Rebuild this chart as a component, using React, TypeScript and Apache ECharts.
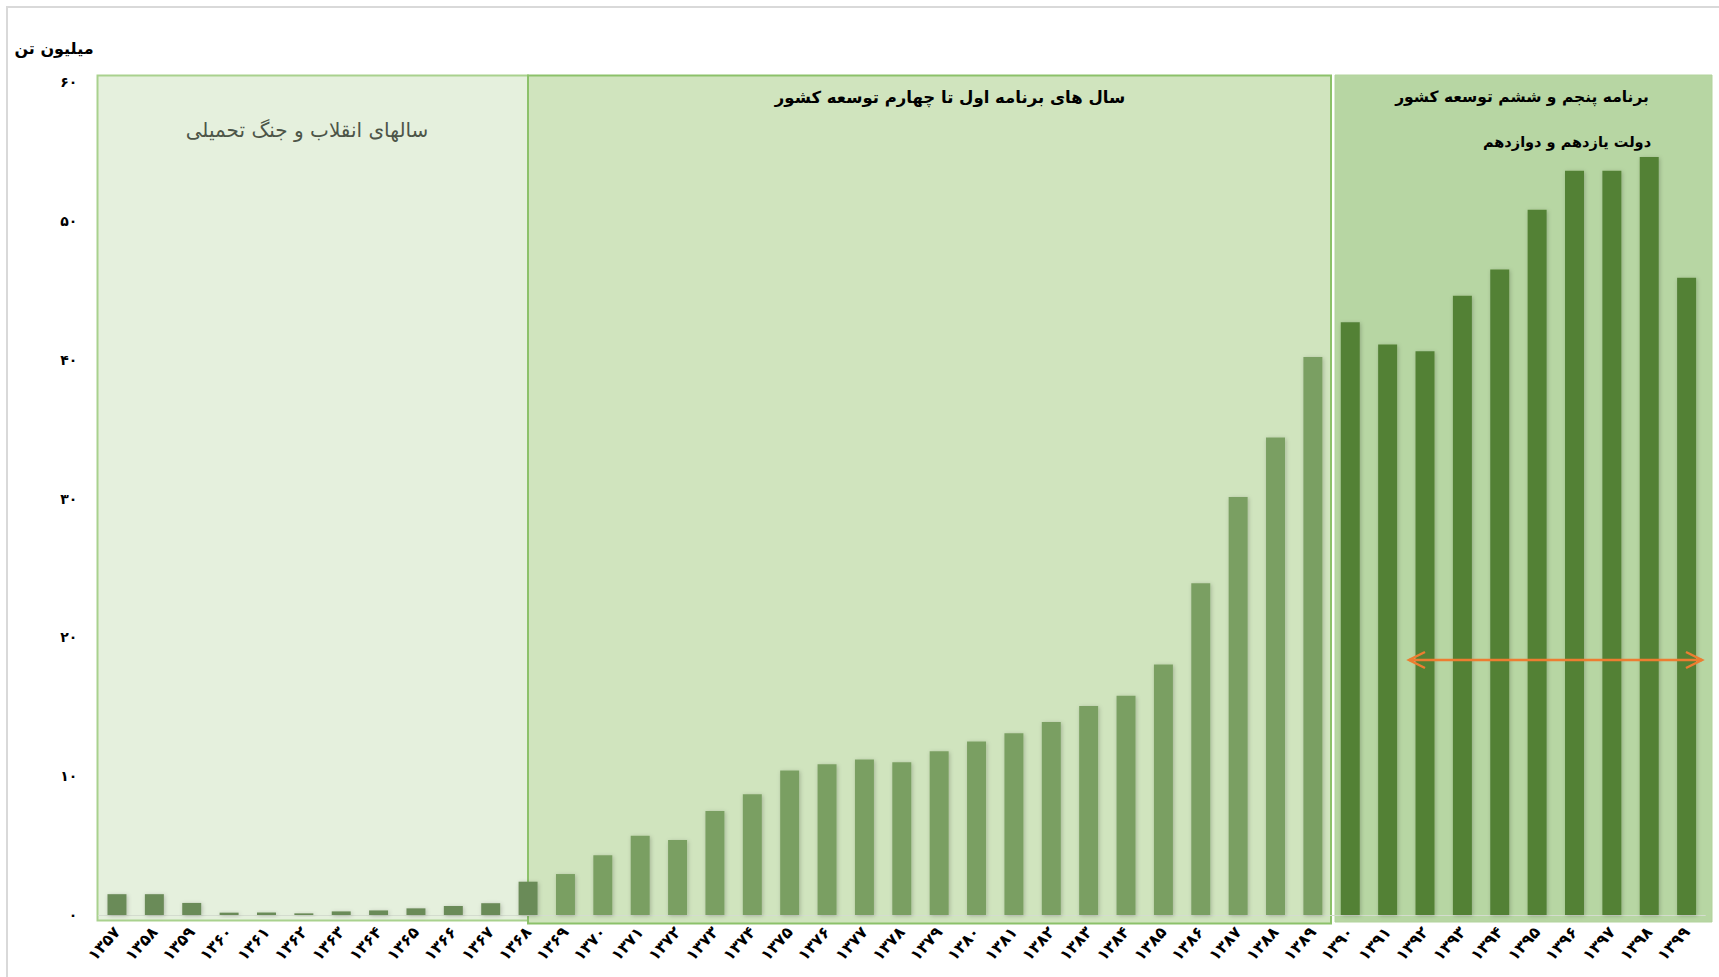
import React, { useEffect, useRef } from "react";
import * as echarts from "echarts";

const years = [
  "۱۳۵۷", "۱۳۵۸", "۱۳۵۹", "۱۳۶۰", "۱۳۶۱", "۱۳۶۲", "۱۳۶۳", "۱۳۶۴", "۱۳۶۵", "۱۳۶۶",
  "۱۳۶۷", "۱۳۶۸", "۱۳۶۹", "۱۳۷۰", "۱۳۷۱", "۱۳۷۲", "۱۳۷۳", "۱۳۷۴", "۱۳۷۵", "۱۳۷۶",
  "۱۳۷۷", "۱۳۷۸", "۱۳۷۹", "۱۳۸۰", "۱۳۸۱", "۱۳۸۲", "۱۳۸۳", "۱۳۸۴", "۱۳۸۵", "۱۳۸۶",
  "۱۳۸۷", "۱۳۸۸", "۱۳۸۹", "۱۳۹۰", "۱۳۹۱", "۱۳۹۲", "۱۳۹۳", "۱۳۹۴", "۱۳۹۵", "۱۳۹۶",
  "۱۳۹۷", "۱۳۹۸", "۱۳۹۹",
];

const production = [
  1.5, 1.5, 0.87, 0.17, 0.18, 0.12, 0.26, 0.33, 0.48, 0.65,
  0.85, 2.4, 2.95, 4.3, 5.7, 5.4, 7.5, 8.7, 10.4, 10.85,
  11.2, 11.0, 11.8, 12.5, 13.1, 13.9, 15.05, 15.8, 18.05, 23.9,
  30.1, 34.4, 40.2, 42.7, 41.1, 40.6, 44.6, 46.5, 50.8, 53.6,
  53.6, 54.6, 45.9,
];

// number of bars in each period
const periodCounts = [12, 21, 10];
const periodBarColors = ["#6b8b59", "#7a9f62", "#538135"];

const yTicks = [0, 10, 20, 30, 40, 50, 60];

const unitLabel = "میلیون تن";
const period1Title = "سالهای انقلاب و جنگ تحمیلی";
const period2Title = "سال های برنامه اول تا چهارم توسعه کشور";
const period3Title = "برنامه پنجم و ششم توسعه کشور";
const period3Sub = "دولت یازدهم و دوازدهم";

const faDigits = "۰۱۲۳۴۵۶۷۸۹";
const toFa = (v: number | string) =>
  String(v).replace(/[0-9]/g, (d) => faDigits[Number(d)]);

const FONT = '"DejaVu Sans", "Noto Sans", sans-serif';

export default function App() {
  const ref = useRef<HTMLDivElement>(null);

  useEffect(() => {
    if (!ref.current) return;
    const chart = echarts.init(ref.current, undefined, { renderer: "svg" });

    const colorFor = (i: number) => {
      let acc = 0;
      for (let p = 0; p < periodCounts.length; p++) {
        acc += periodCounts[p];
        if (i < acc) return periodBarColors[p];
      }
      return periodBarColors[periodBarColors.length - 1];
    };

    const data = production.map((v, i) => ({
      value: v,
      itemStyle: { color: colorFor(i) },
    }));

    const arrowColor = "#ed7d31";

    chart.setOption({
      animation: false,
      backgroundColor: "#ffffff",
      grid: { left: 98.3, top: 82, width: 1607, height: 833, containLabel: false },
      xAxis: {
        type: "category",
        data: years,
        axisTick: { show: false },
        axisLine: { show: true, lineStyle: { color: "#d4dccf", width: 1 } },
        axisLabel: {
          rotate: 48,
          margin: 14,
          interval: 0,
          color: "#000",
          fontWeight: "bold",
          fontSize: 16,
          fontFamily: FONT,
        },
      },
      yAxis: {
        type: "value",
        min: yTicks[0],
        max: yTicks[yTicks.length - 1],
        interval: 10,
        splitLine: { show: false },
        axisLine: { show: false },
        axisTick: { show: false },
        axisLabel: {
          margin: 21,
          color: "#000",
          fontWeight: "bold",
          fontSize: 14,
          fontFamily: FONT,
          formatter: (v: number) => toFa(v),
        },
      },
      graphic: [
        {
          type: "rect",
          z: -10,
          shape: { x: 7, y: 7, width: 1730, height: 1000 },
          style: { fill: "none", stroke: "#d9d9d9", lineWidth: 2 },
        },
        {
          type: "rect",
          z: -5,
          shape: { x: 97.5, y: 75.5, width: 430.5, height: 845 },
          style: { fill: "#e5f0dd", stroke: "#a9d18e", lineWidth: 2 },
        },
        {
          type: "rect",
          z: -4,
          shape: { x: 528, y: 75.5, width: 803, height: 848 },
          style: { fill: "rgba(190,218,165,0.72)", stroke: "#8cc16a", lineWidth: 2 },
        },
        {
          type: "rect",
          z: -4,
          shape: { x: 1335, y: 75, width: 377, height: 847 },
          style: { fill: "#b7d6a3", stroke: "#b2d39c", lineWidth: 1 },
        },
        {
          type: "text",
          z: 5,
          x: 54,
          y: 48,
          style: {
            text: unitLabel,
            font: `bold 16px ${FONT}`,
            fill: "#000",
            align: "center",
            verticalAlign: "middle",
          },
        },
        {
          type: "text",
          z: 5,
          x: 307,
          y: 130,
          style: {
            text: period1Title,
            font: `20px ${FONT}`,
            fill: "#4d5548",
            align: "center",
            verticalAlign: "middle",
          },
        },
        {
          type: "text",
          z: 5,
          x: 950,
          y: 97,
          style: {
            text: period2Title,
            font: `bold 16.5px ${FONT}`,
            fill: "#000",
            align: "center",
            verticalAlign: "middle",
          },
        },
        {
          type: "text",
          z: 5,
          x: 1522,
          y: 97,
          style: {
            text: period3Title,
            font: `bold 15.5px ${FONT}`,
            fill: "#000",
            align: "center",
            verticalAlign: "middle",
          },
        },
        {
          type: "text",
          z: 5,
          x: 1567,
          y: 142,
          style: {
            text: period3Sub,
            font: `bold 14.5px ${FONT}`,
            fill: "#000",
            align: "center",
            verticalAlign: "middle",
          },
        },
        {
          type: "line",
          z: 20,
          shape: { x1: 1409, y1: 660, x2: 1702, y2: 660 },
          style: { stroke: arrowColor, lineWidth: 2.5 },
        },
        {
          type: "polyline",
          z: 20,
          shape: { points: [[1425, 652], [1409, 660], [1425, 668]] },
          style: { stroke: arrowColor, lineWidth: 2.5, fill: "none" },
        },
        {
          type: "polyline",
          z: 20,
          shape: { points: [[1686, 652], [1702, 660], [1686, 668]] },
          style: { stroke: arrowColor, lineWidth: 2.5, fill: "none" },
        },
      ],
      series: [
        {
          type: "bar",
          data,
          barWidth: 19,
          z: 2,
          itemStyle: {
            shadowColor: "rgba(0,0,0,0.22)",
            shadowBlur: 4,
            shadowOffsetX: 1,
            shadowOffsetY: 1,
          },
        },
      ],
    });

    return () => chart.dispose();
  }, []);

  return (
    <div
      ref={ref}
      style={{ position: "absolute", left: 0, top: 0, width: 1719, height: 977 }}
    />
  );
}
